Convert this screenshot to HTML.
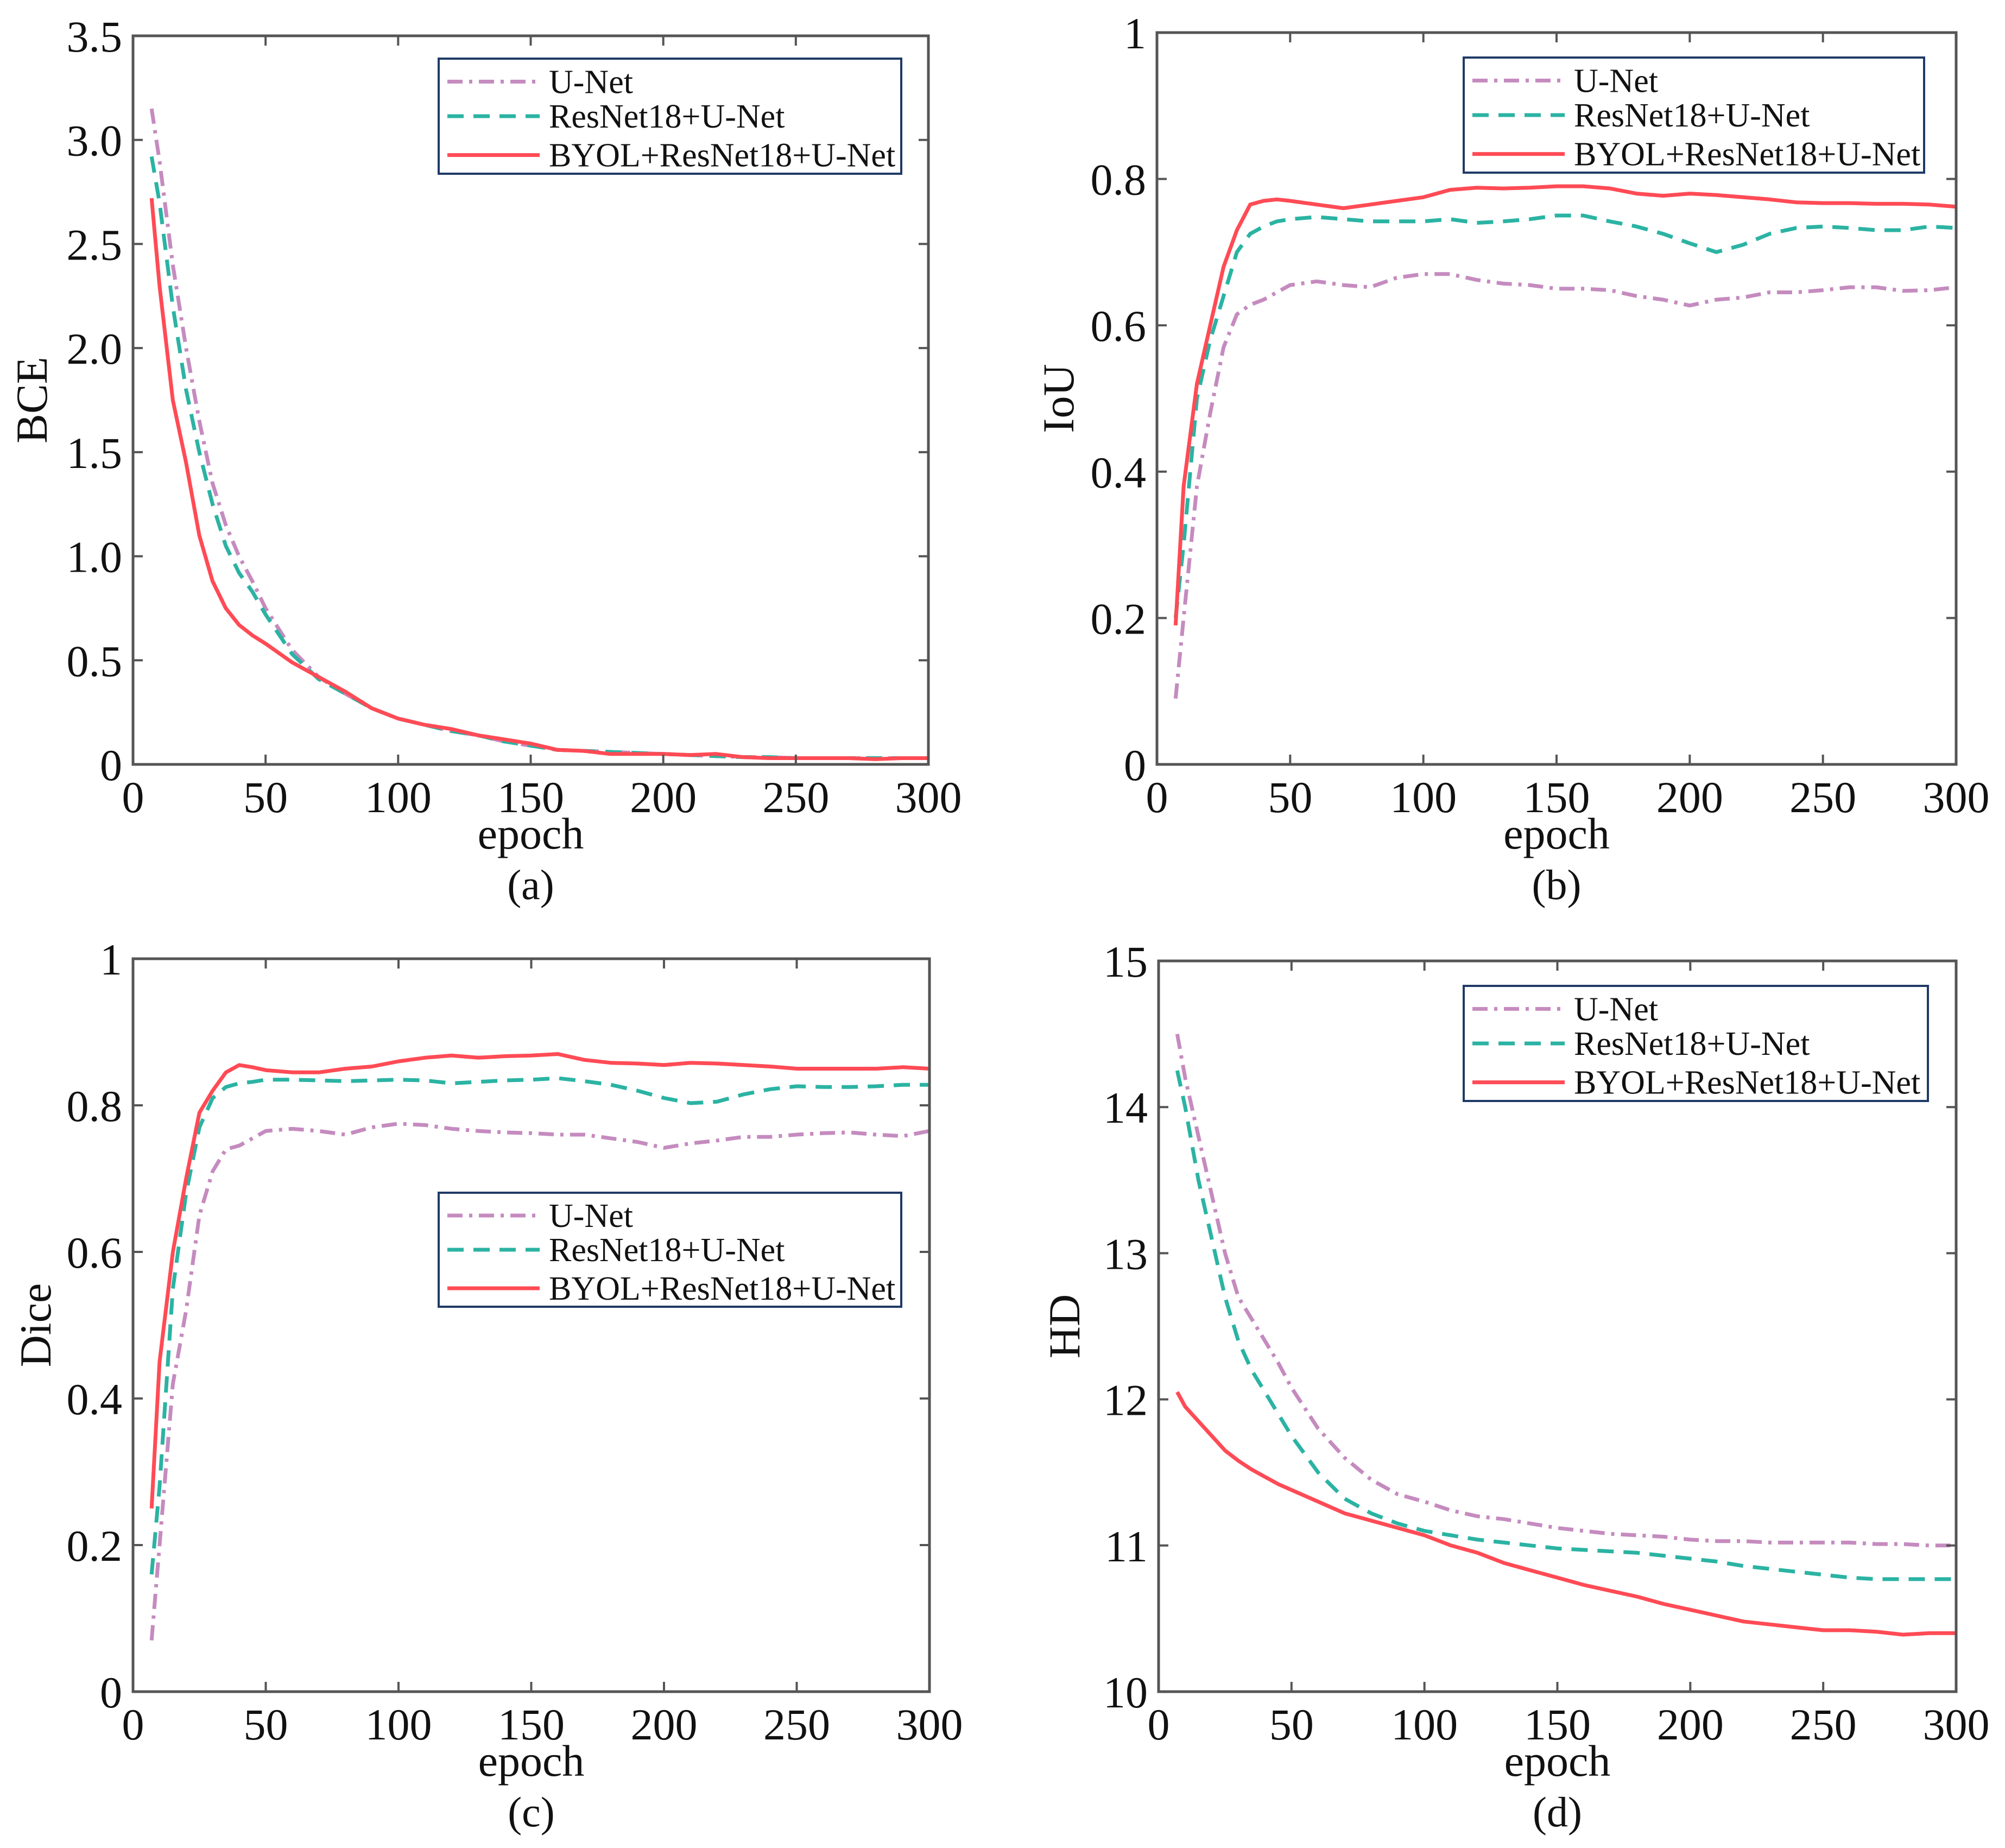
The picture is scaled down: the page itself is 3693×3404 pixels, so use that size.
<!DOCTYPE html>
<html><head><meta charset="utf-8"><style>
html,body{margin:0;padding:0;background:#fff}
svg{display:block}
text{font-family:"Liberation Serif",serif;fill:#111}
</style></head><body>
<svg id="fig" width="3693" height="3404" viewBox="0 0 3693 3404" xmlns="http://www.w3.org/2000/svg"></svg>
<script>
const epochs=[7,10,15,20,25,30,35,40,45,50,60,70,80,90,100,110,120,130,140,150,160,170,180,190,200,210,220,230,240,250,260,270,280,290,300];
const bceUNet=[3.15,2.9,2.4,2.0,1.65,1.35,1.15,1.0,0.88,0.75,0.55,0.42,0.34,0.27,0.22,0.19,0.16,0.14,0.11,0.09,0.07,0.065,0.06,0.055,0.05,0.045,0.04,0.035,0.035,0.03,0.03,0.03,0.03,0.03,0.03];
const bceRes=[2.92,2.7,2.2,1.8,1.5,1.25,1.05,0.92,0.83,0.72,0.53,0.41,0.34,0.27,0.22,0.19,0.16,0.14,0.11,0.09,0.07,0.065,0.06,0.055,0.05,0.045,0.04,0.035,0.035,0.03,0.03,0.03,0.03,0.03,0.03];
const bceByol=[2.72,2.3,1.75,1.45,1.1,0.88,0.75,0.67,0.62,0.58,0.49,0.42,0.35,0.27,0.22,0.19,0.17,0.14,0.12,0.1,0.07,0.065,0.05,0.05,0.05,0.045,0.05,0.035,0.03,0.03,0.03,0.03,0.025,0.03,0.03];
const iouUNet=[0.09,0.2,0.38,0.48,0.57,0.615,0.628,0.635,0.645,0.655,0.66,0.655,0.652,0.665,0.67,0.67,0.662,0.657,0.655,0.65,0.65,0.648,0.64,0.635,0.627,0.635,0.638,0.645,0.645,0.648,0.652,0.652,0.647,0.648,0.652];
const iouRes=[0.2,0.3,0.5,0.58,0.64,0.7,0.725,0.735,0.742,0.745,0.748,0.745,0.742,0.742,0.742,0.745,0.74,0.742,0.745,0.75,0.75,0.742,0.735,0.725,0.712,0.7,0.71,0.725,0.733,0.735,0.733,0.73,0.73,0.735,0.733];
const iouByol=[0.19,0.38,0.52,0.6,0.68,0.73,0.765,0.77,0.772,0.77,0.765,0.76,0.765,0.77,0.775,0.785,0.788,0.787,0.788,0.79,0.79,0.787,0.78,0.777,0.78,0.778,0.775,0.772,0.768,0.767,0.767,0.766,0.766,0.765,0.762];
const diceUNet=[0.07,0.2,0.42,0.52,0.65,0.71,0.74,0.745,0.755,0.765,0.768,0.765,0.76,0.77,0.775,0.773,0.768,0.765,0.763,0.762,0.76,0.76,0.755,0.75,0.742,0.748,0.752,0.757,0.757,0.76,0.762,0.763,0.76,0.758,0.765];
const diceRes=[0.16,0.28,0.55,0.68,0.77,0.81,0.825,0.83,0.832,0.835,0.835,0.834,0.833,0.834,0.835,0.834,0.83,0.832,0.834,0.835,0.837,0.833,0.828,0.82,0.81,0.803,0.805,0.815,0.822,0.826,0.825,0.825,0.826,0.828,0.828];
const diceByol=[0.25,0.45,0.6,0.7,0.79,0.82,0.845,0.855,0.852,0.848,0.845,0.845,0.85,0.853,0.86,0.865,0.868,0.865,0.867,0.868,0.87,0.862,0.858,0.857,0.855,0.858,0.857,0.855,0.853,0.85,0.85,0.85,0.85,0.852,0.85];
const hdUNet=[14.5,14.2,13.8,13.4,13.0,12.7,12.55,12.4,12.25,12.08,11.8,11.6,11.45,11.35,11.3,11.24,11.2,11.18,11.15,11.12,11.1,11.08,11.07,11.06,11.04,11.03,11.03,11.02,11.02,11.02,11.02,11.01,11.01,11.0,11.0];
const hdRes=[14.25,14.0,13.5,13.1,12.7,12.4,12.2,12.05,11.9,11.75,11.5,11.32,11.22,11.15,11.1,11.07,11.04,11.02,11.0,10.98,10.97,10.96,10.95,10.93,10.91,10.89,10.86,10.84,10.82,10.8,10.78,10.77,10.77,10.77,10.77];
const hdByol=[12.05,11.95,11.85,11.75,11.65,11.58,11.52,11.47,11.42,11.38,11.3,11.22,11.17,11.12,11.07,11.0,10.95,10.88,10.83,10.78,10.73,10.69,10.65,10.6,10.56,10.52,10.48,10.46,10.44,10.42,10.42,10.41,10.39,10.4,10.4];
const xTicks=[0,50,100,150,200,250,300];
const bceTicks=[0,0.5,1.0,1.5,2.0,2.5,3.0,3.5];
const bceTickLabels=["0","0.5","1.0","1.5","2.0","2.5","3.0","3.5"];
const unitTicks=[0,0.2,0.4,0.6,0.8,1];
const unitTickLabels=["0","0.2","0.4","0.6","0.8","1"];
const hdTicks=[10,11,12,13,14,15];
const hdTickLabels=["10","11","12","13","14","15"];
const seriesNames=["U-Net","ResNet18+U-Net","BYOL+ResNet18+U-Net"];

const NS="http://www.w3.org/2000/svg";
const svg=document.getElementById('fig');
function mk(tag,attrs,parent){const e=document.createElementNS(NS,tag);for(const k in attrs)e.setAttribute(k,attrs[k]);(parent||svg).appendChild(e);return e;}
const styles=[{c:"#c58bbf",d:"28 12 6 12"},{c:"#2bb3a3",d:"30 18"},{c:"#ff4b55",d:""}];

function panel(o){
  const g=mk('g',{});
  
  
  const X=v=>o.l+(v-0)/(300-0)*(o.r-o.l);
  const Y=v=>o.b-(v-o.ymin)/(o.ymax-o.ymin)*(o.b-o.t);
  o.series.forEach((s,i)=>{
    const pts=epochs.map((e,j)=>X(e).toFixed(1)+','+Y(s[j]).toFixed(1)).join(' ');
    const pl=mk('polyline',{points:pts,fill:'none',stroke:styles[i].c,'stroke-width':7,'stroke-dasharray':styles[i].d,'stroke-linejoin':'round'},g);
    
    
  });
  const fr=mk('rect',{x:o.l,y:o.t,width:o.r-o.l,height:o.b-o.t,fill:'none',stroke:'#555','stroke-width':5},g);
  
  
  xTicks.forEach(v=>{
    const x=X(v);
    mk('line',{x1:x,y1:o.b,x2:x,y2:o.b-18,stroke:'#555','stroke-width':4},g);
    mk('line',{x1:x,y1:o.t,x2:x,y2:o.t+18,stroke:'#555','stroke-width':4},g);
    const t=mk('text',{x:x,y:o.b+88,'font-size':82,'text-anchor':'middle'},g);
    t.textContent=v;
    
    
  });
  o.yTicks.forEach((v,k)=>{
    const y=Y(v);
    mk('line',{x1:o.l,y1:y,x2:o.l+18,y2:y,stroke:'#555','stroke-width':4},g);
    mk('line',{x1:o.r,y1:y,x2:o.r-18,y2:y,stroke:'#555','stroke-width':4},g);
    const t=mk('text',{x:o.l-20,y:y+29,'font-size':82,'text-anchor':'end'},g);
    t.textContent=o.yLabels[k];
    
    
  });
  const xt=mk('text',{x:(o.l+o.r)/2,y:o.b+155,'font-size':82,'text-anchor':'middle'},g);
  xt.textContent='epoch';
  
  
  const cap=mk('text',{x:(o.l+o.r)/2,y:o.b+248,'font-size':78,'text-anchor':'middle'},g);
  cap.textContent='('+o.id+')';
  
  
  const yt=mk('text',{x:o.ytx,y:(o.t+o.b)/2,'font-size':82,'text-anchor':'middle',transform:'rotate(-90 '+o.ytx+' '+((o.t+o.b)/2)+')'},g);
  yt.textContent=o.ytitle;
  
  
  const L=o.leg;
  const lg=mk('g',{},g);
  
  
  mk('rect',{x:L.x,y:L.y,width:L.w,height:L.h,fill:'#fff',stroke:'#1f3a66','stroke-width':4},lg);
  seriesNames.forEach((n,i)=>{
    const ey=L.y+L.h*(0.2+0.3*i)+(i==2?8:0);
    const e=mk('g',{},lg);
    
    
    mk('line',{x1:L.x+16,y1:ey,x2:L.x+186,y2:ey,stroke:styles[i].c,'stroke-width':7,'stroke-dasharray':styles[i].d},e);
    const t=mk('text',{x:L.x+203,y:ey+21,'font-size':62},e);
    t.textContent=n;
  });
}
panel({id:'a',l:245,r:1710,t:66,b:1408,ymin:0,ymax:3.5,yTicks:bceTicks,yLabels:bceTickLabels,ytitle:'BCE',ytx:86,series:[bceUNet,bceRes,bceByol],leg:{x:808,y:108,w:852,h:212}});
panel({id:'b',l:2131,r:3603,t:60,b:1408,ymin:0,ymax:1,yTicks:unitTicks,yLabels:unitTickLabels,ytitle:'IoU',ytx:1977,series:[iouUNet,iouRes,iouByol],leg:{x:2696,y:106,w:848,h:212}});
panel({id:'c',l:245,r:1712,t:1766,b:3116,ymin:0,ymax:1,yTicks:unitTicks,yLabels:unitTickLabels,ytitle:'Dice',ytx:93,series:[diceUNet,diceRes,diceByol],leg:{x:808,y:2197,w:852,h:210}});
panel({id:'d',l:2134,r:3603,t:1770,b:3116,ymin:10,ymax:15,yTicks:hdTicks,yLabels:hdTickLabels,ytitle:'HD',ytx:1988,series:[hdUNet,hdRes,hdByol],leg:{x:2696,y:1816,w:855,h:212}});
</script>
</body></html>
